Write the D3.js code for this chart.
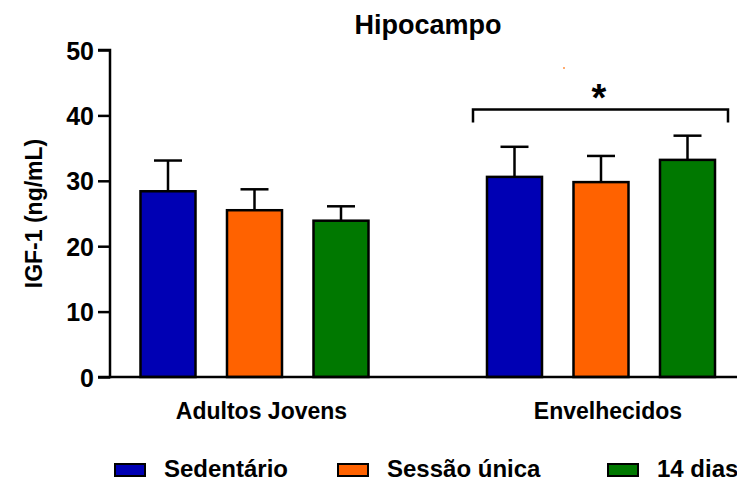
<!DOCTYPE html>
<html>
<head>
<meta charset="utf-8">
<script src="https://cdn.jsdelivr.net/npm/d3@7"></script>
<style>
    body { margin: 0; background: #fff; }
    svg text { font-family: "Liberation Sans", Arial, sans-serif; font-weight: bold; fill: #000; }
</style>
</head>
<body>
<div id="chart"></div>
<script>
const groups = ['Adultos Jovens', 'Envelhecidos'];
const series = ['Sedentário', 'Sessão única', '14 dias'];
const means = [
    [28.4, 25.5, 23.9],
    [30.6, 29.8, 33.2]
];
const errors = [
    [4.7, 3.2, 2.2],
    [4.6, 4.0, 3.7]
];
const yTicks = [0, 10, 20, 30, 40, 50];
const colors = ['#0000b4', '#ff6200', '#007800'];

const width = 737;
const height = 481;
const margin = { top: 50, left: 110, bottom: 104 };

const svg = d3.select('#chart')
    .append('svg')
    .attr('width', width)
    .attr('height', height);

const y = d3.scaleLinear()
    .domain([0, 50])
    .range([height - margin.bottom, margin.top]);

const x0 = d3.scalePoint()
    .domain(groups)
    .range([254.5, 601]);

const x1 = d3.scaleBand()
    .domain(series)
    .range([-129.75, 129.75])
    .paddingInner(0.364)
    .paddingOuter(0.182);

// bars + error bars
groups.forEach((g, gi) => {
    const grp = svg.append('g').attr('transform', `translate(${x0(g)},0)`);
    series.forEach((s, si) => {
        const m = means[gi][si];
        const e = errors[gi][si];
        const cx = x1(s) + x1.bandwidth() / 2;
        grp.append('line')
            .attr('x1', cx).attr('x2', cx)
            .attr('y1', y(m)).attr('y2', y(m + e))
            .attr('stroke', '#000').attr('stroke-width', 2.5);
        grp.append('line')
            .attr('x1', cx - 14).attr('x2', cx + 14)
            .attr('y1', y(m + e)).attr('y2', y(m + e))
            .attr('stroke', '#000').attr('stroke-width', 2.5);
        grp.append('rect')
            .attr('x', x1(s))
            .attr('y', y(m))
            .attr('width', x1.bandwidth())
            .attr('height', y(0) - y(m))
            .attr('fill', colors[si])
            .attr('stroke', '#000')
            .attr('stroke-width', 2.5);
    });
});

// y axis
const yAxis = svg.append('g')
    .attr('transform', `translate(${margin.left},0)`)
    .call(d3.axisLeft(y).tickValues(yTicks).tickSize(12).tickPadding(4));
yAxis.select('.domain').attr('stroke-width', 2.5).attr('d', `M-12,${y(50)}H0V${y(0)}H-12`);
yAxis.selectAll('.tick line').attr('stroke-width', 2.5);
yAxis.selectAll('.tick text').attr('font-size', 25).attr('font-family', null).attr('dy', '0.36em');

// x axis line
svg.append('line')
    .attr('x1', margin.left).attr('x2', width)
    .attr('y1', y(0)).attr('y2', y(0))
    .attr('stroke', '#000').attr('stroke-width', 2.5);

// group labels
svg.selectAll('.group-label')
    .data(groups)
    .enter().append('text')
    .attr('class', 'group-label')
    .attr('x', d => x0(d) + 7)
    .attr('y', 419)
    .attr('text-anchor', 'middle')
    .attr('font-size', 23)
    .text(d => d);

// y label
svg.append('text')
    .attr('transform', `translate(42,${(y(0) + y(50)) / 2}) rotate(-90)`)
    .attr('text-anchor', 'middle')
    .attr('font-size', 23)
    .text('IGF-1 (ng/mL)');

// title
svg.append('text')
    .attr('x', 428)
    .attr('y', 34)
    .attr('text-anchor', 'middle')
    .attr('font-size', 27)
    .text('Hipocampo');

// significance bracket over Envelhecidos
const bx = x0('Envelhecidos');
const by = y(40.9);
svg.append('path')
    .attr('d', `M${bx - 128},${by + 13}V${by}H${bx + 127}V${by + 13}`)
    .attr('fill', 'none')
    .attr('stroke', '#000')
    .attr('stroke-width', 2.5);
svg.append('text')
    .attr('x', bx - 2)
    .attr('y', by + 1)
    .attr('text-anchor', 'middle')
    .attr('font-size', 38)
    .text('*');

// little orange speck in the original
svg.append('circle')
    .attr('cx', 564).attr('cy', 68).attr('r', 1)
    .attr('fill', '#ff9040');

// legend
const legendX = [114, 337, 607];
const legend = svg.selectAll('.legend')
    .data(series)
    .enter().append('g')
    .attr('class', 'legend')
    .attr('transform', (d, i) => `translate(${legendX[i]},463)`);
legend.append('rect')
    .attr('x', 1).attr('y', 1)
    .attr('width', 30).attr('height', 12)
    .attr('fill', (d, i) => colors[i])
    .attr('stroke', '#000')
    .attr('stroke-width', 2);
legend.append('text')
    .attr('x', 50)
    .attr('y', 14)
    .attr('font-size', 24)
    .text(d => d);
</script>
</body>
</html>
